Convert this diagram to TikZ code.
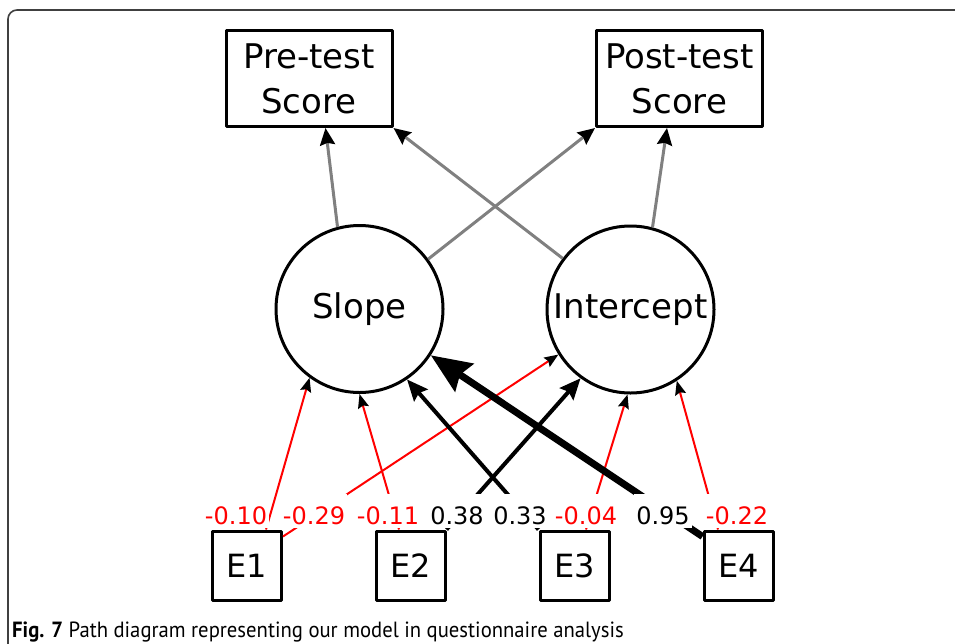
\documentclass[tikz,border=0pt]{standalone}
\usepackage{fontspec}
\usepackage{graphicx}
\setmainfont{DejaVu Sans}
\newfontfamily\capfont{PT Sans}
\usetikzlibrary{arrows.meta}

\begin{document}
\begin{tikzpicture}[x=1pt, y=-1pt,
  obs/.style={draw, rectangle, line width=3pt, line join=round, minimum width=166pt, minimum height=96pt, inner sep=0pt, align=center, font=\fontsize{34}{45}\selectfont},
  latent/.style={draw, circle, line width=3pt, minimum size=167pt, inner sep=0pt, font=\fontsize{34}{40}\selectfont},
  err/.style={draw, rectangle, line width=3pt, line join=round, minimum size=69pt, inner sep=0pt, font=\fontsize{32}{38}\selectfont},
  coef/.style={fill=white, anchor=base, inner xsep=2pt, inner ysep=2pt, text height=28pt, text depth=2pt, font=\fontsize{24}{28}\selectfont},
  loadedge/.style={draw=gray, line width=3pt, -{Stealth[color=black, length=17pt, width=15pt, inset=2pt]}},
  negedge/.style={draw=red, line width=2pt, -{Stealth[color=black, length=14pt, width=11pt, inset=2pt]}},
  posedge/.style={draw=black, line width=4pt, -{Stealth[length=21pt, width=18pt, inset=3pt]}},
  heavyedge/.style={draw=black, line width=7pt, -{Stealth[length=40pt, width=33pt, inset=5pt]}}]
\useasboundingbox (0,0) rectangle (955,643);
\draw[line width=1.6pt, black!75, rounded corners=9pt] (8,650) -- (8,10) -- (960,10);

\node[obs] (Pre) at (309,78.5) {Pre-test\\Score};
\node[obs] (Post) at (679.5,78.5) {Post-test\\Score};
\node[latent] (Slope) at (359.5,309) {Slope};
\node[latent] (Icpt) at (630.5,309.5) {Intercept};
\node[err] (E1) at (247,565.5) {E1};
\node[err] (E2) at (410.5,565.5) {E2};
\node[err] (E3) at (574.5,565.5) {E3};
\node[err] (E4) at (738.5,565.5) {E4};

\draw[loadedge] (Slope.105) -- ([xshift=16.5pt]Pre.south);
\draw[loadedge] (Slope.36) -- (Post.south west);
\draw[loadedge] (Icpt.143) -- (Pre.south east);
\draw[loadedge] (Icpt.75) -- ([xshift=-12.5pt]Post.south);

\draw[negedge] ([xshift=19pt]E1.north) -- (Slope.234);
\draw[negedge] ([yshift=-7pt]E1.north east) -- (Icpt.212);
\draw[negedge] ([xshift=-11.5pt]E2.north) -- (Slope.270);
\draw[posedge] (E2.north east) -- (Icpt.234);
\draw[posedge] (E3.north west) -- (Slope.304);
\draw[negedge] ([xshift=11.5pt]E3.north) -- (Icpt.268);
\draw[heavyedge] ([yshift=-7pt]E4.north west) -- (Slope.327);
\draw[negedge] ([xshift=-20.5pt]E4.north) -- (Icpt.303);

\node[coef, text=red] (c1) at (236,524) {-0.10};
\node[coef, text=red] (c2) at (314,524) {-0.29};
\node[coef, text=red] (c3) at (388,524) {-0.11};
\node[coef] (c4) at (457,524) {0.38};
\node[coef] (c5) at (520,524) {0.33};
\node[coef, text=red] (c6) at (586,524) {-0.04};
\node[coef] (c7) at (663,524) {0.95};
\node[coef, text=red] (c8) at (737,524) {-0.22};

\node[anchor=base west, inner sep=0pt, font=\capfont\fontsize{22}{26}\selectfont] (cap) at (12,637) {\scalebox{0.94}[1]{\textbf{Fig. 7} Path diagram representing our model in questionnaire analysis}};
\end{tikzpicture}
\end{document}
